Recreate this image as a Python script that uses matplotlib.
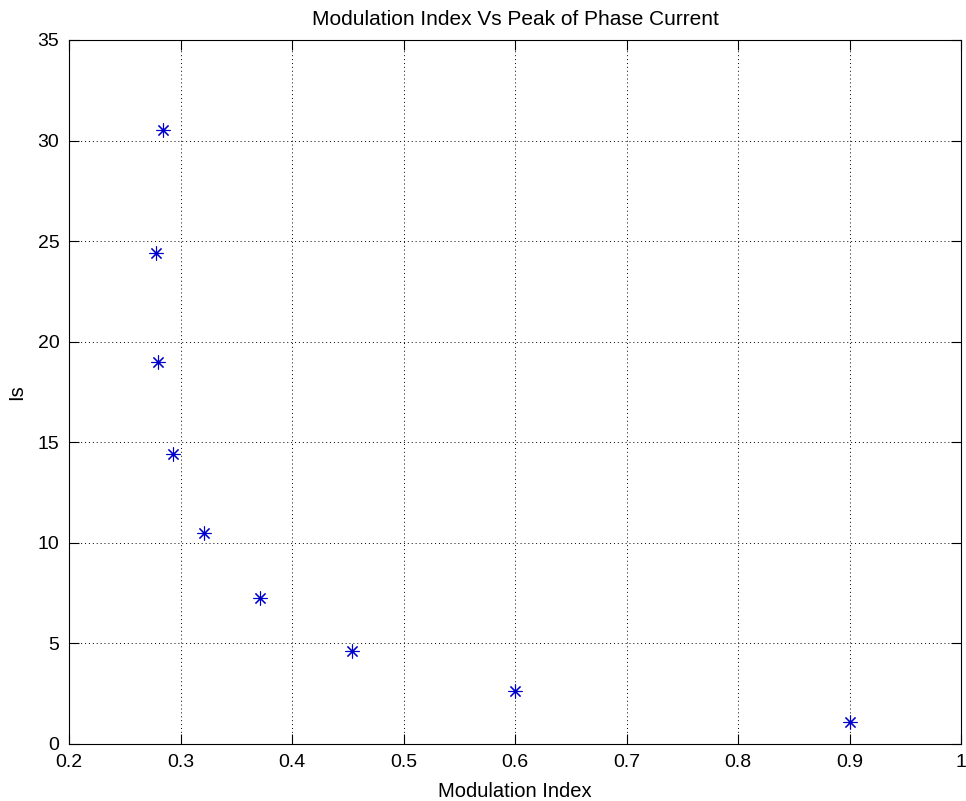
import matplotlib
matplotlib.use("Agg")
import matplotlib.pyplot as plt
import numpy as np

# values
modulation_index = [0.284, 0.278, 0.280, 0.293, 0.321, 0.371, 0.454, 0.600, 0.900]
peak_current = [30.55, 24.4, 19.0, 14.4, 10.5, 7.25, 4.6, 2.62, 1.1]

x_ticks = [0.2, 0.3, 0.4, 0.5, 0.6, 0.7, 0.8, 0.9, 1.0]
x_tick_labels = ['0.2', '0.3', '0.4', '0.5', '0.6', '0.7', '0.8', '0.9', '1']
y_ticks = [0, 5, 10, 15, 20, 25, 30, 35]

plt.rcParams['font.family'] = ['Liberation Sans', 'DejaVu Sans']

fig = plt.figure(figsize=(9.66, 8.01), dpi=100)
ax = fig.add_axes([69 / 966, 57 / 801, 892 / 966, 704 / 801])

# matlab style '*' marker: plus and cross together
ax.plot(modulation_index, peak_current, linestyle='none', marker=(8, 2, 0),
        color='#0000cc', markersize=10, markeredgewidth=0.8)

ax.set_xlim(0.2, 1.0)
ax.set_ylim(0, 35)
ax.set_xticks(x_ticks)
ax.set_xticklabels(x_tick_labels)
ax.set_yticks(y_ticks)

ax.grid(True, color='black', linestyle=(0, (1, 3)), linewidth=0.7)
ax.tick_params(direction='in', length=7, width=0.8, top=True, right=True,
               labelsize=14, pad=7)
for spine in ax.spines.values():
    spine.set_linewidth(0.8)

ax.set_title('Modulation Index Vs Peak of Phase Current', fontsize=15, pad=11)
ax.set_xlabel('Modulation Index', fontsize=14.5, labelpad=8)
ax.set_ylabel('Is', fontsize=14.5, labelpad=8)

fig.savefig('out.png', dpi=100)
